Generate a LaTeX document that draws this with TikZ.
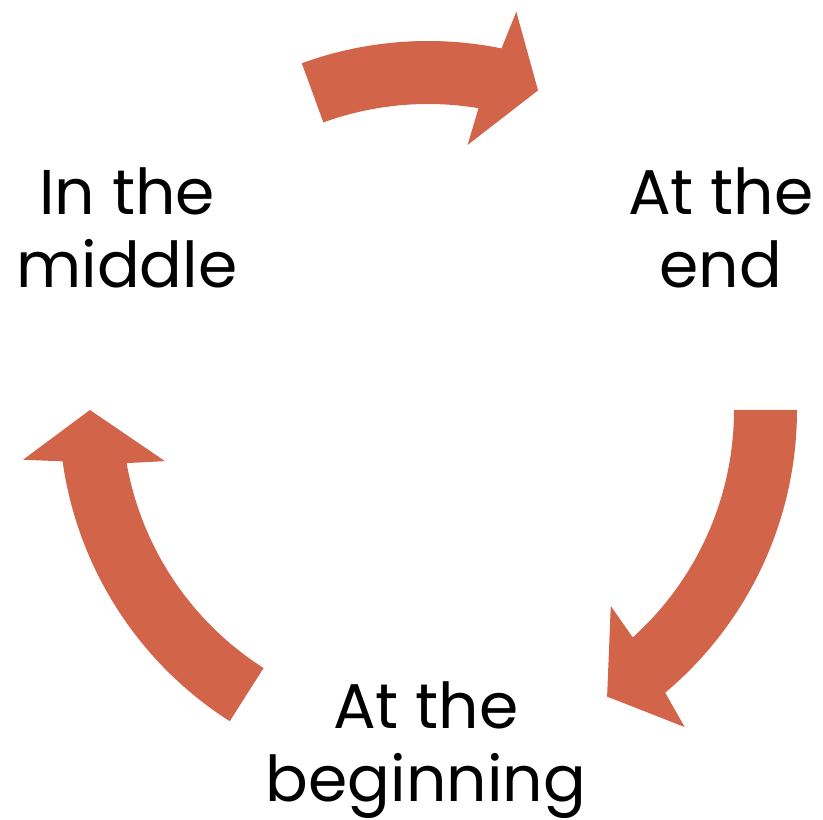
\documentclass[tikz,border=0pt]{standalone}
\usepackage{fontspec}
\setmainfont{Poppins}
\definecolor{cyclered}{RGB}{210,100,74}

\begin{document}
\begin{tikzpicture}[x=0.02cm, y=0.02cm, align=center,
    stage/.style={font=\fontsize{36}{41.5}\selectfont, inner sep=0pt},
    band/.style={fill=cyclered}
]
    \useasboundingbox (-428,-410) rectangle (395,410);
    \node[stage] (middle) at (-301,182) {In the\\middle};
    \node[stage] (end) at (293,182) {At the\\end};
    \node[stage] (begin) at (-2,-340) {At the\\beginning};
    \foreach \s/\e/\t in {110/79.5/71, 0/-49/-58, 237.5/189/180}
        \fill[band] (\s:369) arc[start angle=\s, end angle=\e-1, radius=369]
            -- ({\e-2}:408) -- (\t:338) -- ({\e+2}:268)
            -- ({\e+1}:306) arc[start angle=\e+1, end angle=\s, radius=306] -- cycle;
\end{tikzpicture}
\end{document}
